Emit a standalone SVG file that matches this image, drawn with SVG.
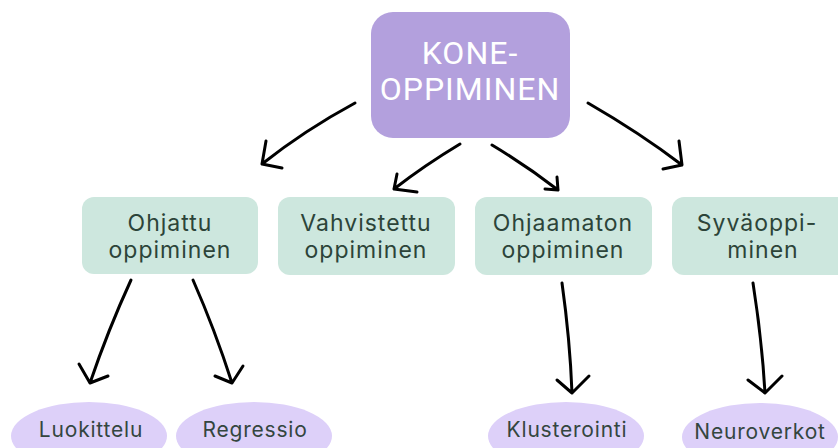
<svg xmlns="http://www.w3.org/2000/svg" width="838" height="448" viewBox="0 0 838 448">
<style>
.main{fill:#b3a0dd}
.title{fill:#ffffff;font-family:Roboto,"Liberation Sans",sans-serif;font-size:32px;letter-spacing:1px;text-anchor:middle}
.box{fill:#cde7de}
.lbl{fill:#2c4439;font-family:Inter,"Liberation Sans",sans-serif;font-size:23px;letter-spacing:1px;text-anchor:middle}
.ell{fill:#ddd0f9}
.elbl{fill:#34463f;font-family:Inter,"Liberation Sans",sans-serif;font-size:21px;letter-spacing:0.8px;text-anchor:middle}
.ar{fill:none;stroke:#000;stroke-width:3;stroke-linecap:round;stroke-linejoin:round}
</style>
<rect width="838" height="448" fill="#ffffff"/>
<g id="kone">
<rect class="main" x="371" y="12" width="199" height="126" rx="22"/>
<text class="title" x="470" y="64">KONE-</text>
<text class="title" x="470" y="100">OPPIMINEN</text>
</g>
<g id="ohjattu">
<rect class="box" x="82" y="197" width="176" height="77" rx="12"/>
<text class="lbl" x="170" y="231">Ohjattu</text>
<text class="lbl" x="170" y="258">oppiminen</text>
</g>
<g id="vahvistettu">
<rect class="box" x="278" y="197" width="177" height="78" rx="12"/>
<text class="lbl" x="366" y="231">Vahvistettu</text>
<text class="lbl" x="366" y="258">oppiminen</text>
</g>
<g id="ohjaamaton">
<rect class="box" x="475" y="197" width="177" height="78" rx="12"/>
<text class="lbl" x="563" y="231">Ohjaamaton</text>
<text class="lbl" x="563" y="258">oppiminen</text>
</g>
<g id="syvaoppiminen">
<rect class="box" x="672" y="197" width="180" height="78" rx="12"/>
<text class="lbl" x="757" y="231">Syväoppi-</text>
<text class="lbl" x="763" y="258">minen</text>
</g>
<g id="luokittelu">
<ellipse class="ell" cx="89" cy="436" rx="78" ry="34"/>
<text class="elbl" x="91" y="437">Luokittelu</text>
</g>
<g id="regressio">
<ellipse class="ell" cx="254" cy="436" rx="78" ry="34"/>
<text class="elbl" x="255" y="437">Regressio</text>
</g>
<g id="klusterointi">
<ellipse class="ell" cx="566" cy="436" rx="78" ry="34"/>
<text class="elbl" x="567" y="437">Klusterointi</text>
</g>
<g id="neuroverkot">
<ellipse class="ell" cx="760" cy="437" rx="78" ry="34"/>
<text class="elbl" x="760" y="439">Neuroverkot</text>
</g>
<g id="connectors">
<path class="ar" d="M355,103 Q305,130 262,164 M266,141 L262,164 L282,168"/>
<path class="ar" d="M460,144 Q425,165 394,189 M397,174 L394,189 L417,192"/>
<path class="ar" d="M492,145 Q527,166 558,190 M557,177 L558,190 L545,189"/>
<path class="ar" d="M588,103 Q640,133 682,165 M679,141 L682,165 L663,169"/>
<path class="ar" d="M131,280 Q108,330 90,383 M79,364 L90,383 L108,376"/>
<path class="ar" d="M193,280 Q215,330 232,383 M215,376 L232,383 L243,366"/>
<path class="ar" d="M562,283 Q570,340 572,393 M557,380 L572,393 L589,376"/>
<path class="ar" d="M753,283 Q762,340 765,393 M748,380 L765,393 L782,376"/>
</g>
</svg>
